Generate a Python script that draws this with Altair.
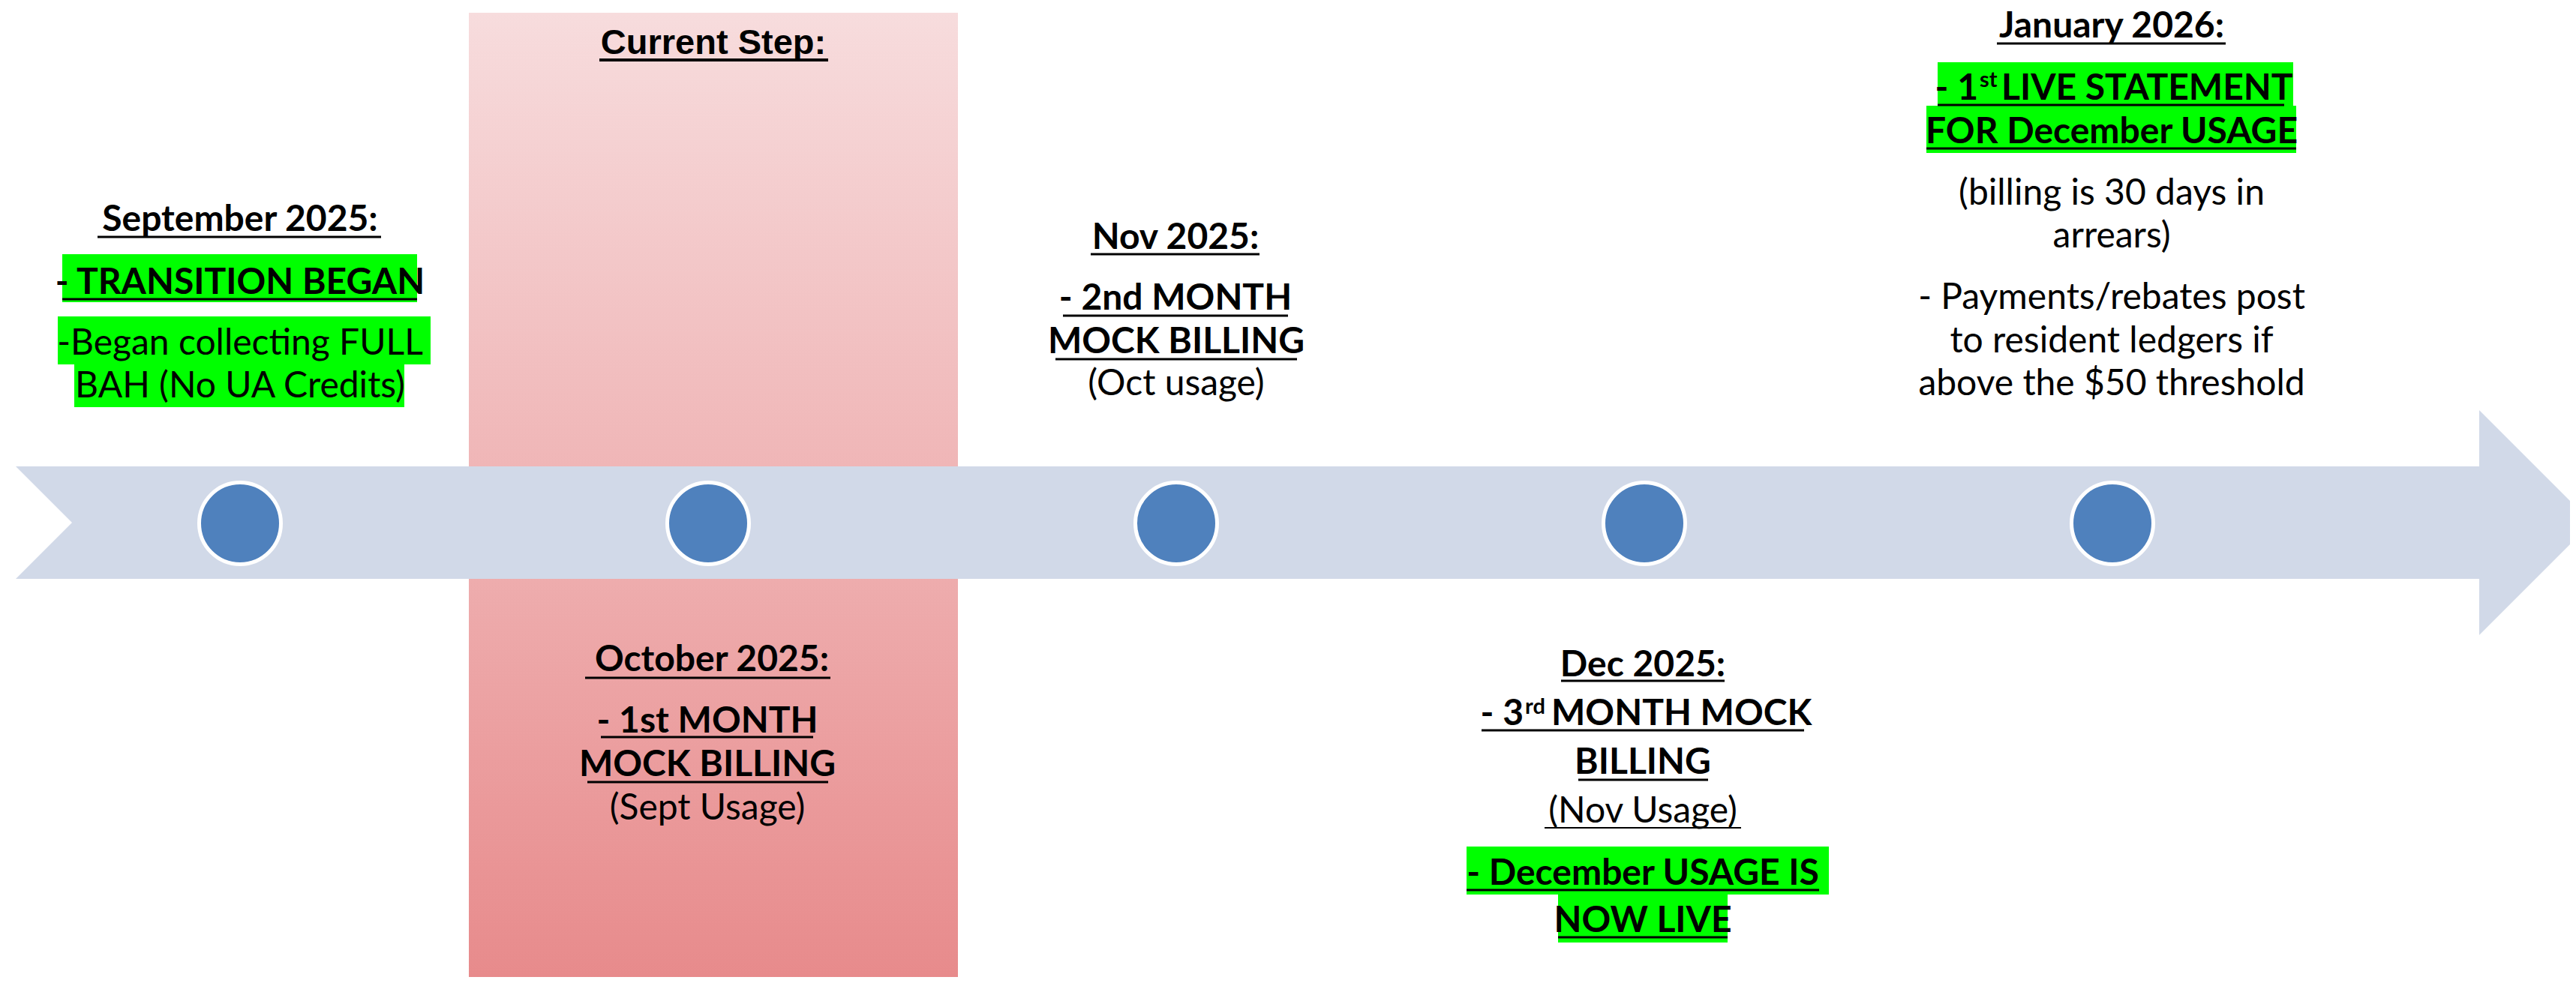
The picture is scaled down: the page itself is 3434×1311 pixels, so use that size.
import altair as alt
import pandas as pd

# ---------------- content ----------------
milestone_labels = ["September 2025", "October 2025", "Nov 2025", "Dec 2025", "January 2026"]
milestone_index = [0, 1, 2, 3, 4]
current_step_index = 1
current_step_label = "Current Step:"

sept_lines = ["September 2025:", "- TRANSITION BEGAN", "-Began collecting FULL", "BAH (No UA Credits)"]
oct_lines = ["October 2025:", "- 1st MONTH", "MOCK BILLING", "(Sept Usage)"]
nov_lines = ["Nov 2025:", "- 2nd MONTH", "MOCK BILLING", "(Oct usage)"]
dec_lines = ["Dec 2025:", ["- 3", "rd", "MONTH MOCK"], "BILLING", "(Nov Usage)",
             "- December USAGE IS", "NOW LIVE"]
jan_lines = ["January 2026:", ["- 1", "st", "LIVE STATEMENT"], "FOR December USAGE",
             "(billing is 30 days in", "arrears)", "- Payments/rebates post",
             "to resident ledgers if", "above the $50 threshold"]

# ---------------- layout (page geometry) ----------------
STEP = 624.0      # pixels between milestones
ORIGIN = 320.0    # pixel of first milestone


def u(px):
    return (px - ORIGIN) / STEP


XS = alt.Scale(domain=[u(8), u(3426)], nice=False, zero=False)
YS = alt.Scale(domain=[8, 1303], reverse=True, nice=False, zero=False)

FONT = "Lato"
B_SIZE = 48
R_SIZE = 48
SUP_SIZE = 29

# (style, baseline, center px, underline (x0,x1,y,w) | None, highlight (x0,x1,y0,y1) | None)
sept_layout = [
    ("bold", 308, 320, (130, 508, 316, 3), None),
    ("bold", 392, 320, (83, 556, 399, 3), (83, 556, 339, 403)),
    ("reg", 473, 320, None, (77, 574, 422, 486)),
    ("reg", 530, 320, None, (99, 539, 486, 543)),
]
oct_layout = [
    ("bold", 895, 949, (780, 1107, 904, 3), None),
    ("bold", 977, 943, (801, 1084, 983, 3), None),
    ("bold", 1035, 943, (783, 1104, 1043, 3), None),
    ("reg", 1093, 943, None, None),
]
nov_layout = [
    ("bold", 332, 1567, (1454, 1679, 339, 3), None),
    ("bold", 413, 1567, (1417, 1717, 421, 3), None),
    ("bold", 471, 1568, (1407, 1729, 479, 3), None),
    ("reg", 527, 1568, None, None),
]
dec_layout = [
    ("bold", 902, 2190, (2081, 2299, 908, 3), None),
    ("sup", 967, (2031, 2033, 2068, 15), (1975, 2405, 974, 3), None),
    ("bold", 1032, 2190, (2104, 2277, 1040, 3), None),
    ("reg", 1097, 2190, (2059, 2321, 1104, 2), None),
    ("bold", 1180, 2190, (1955, 2425, 1187, 3), (1955, 2438, 1129, 1193)),
    ("bold", 1243, 2190, (2077, 2303, 1250, 3), (2077, 2303, 1193, 1257)),
]
jan_layout = [
    ("bold", 50, 2815, (2662, 2967, 58, 3), None),
    ("sup", 133, (2637, 2639, 2668, 17), (2583, 3045, 140, 3), (2583, 3057, 83, 141)),
    ("bold", 191, 2815, (2568, 3061, 198, 3), (2568, 3061, 141, 204)),
    ("reg", 273, 2815, None, None),
    ("reg", 330, 2815, None, None),
    ("reg", 412, 2815, None, None),
    ("reg", 470, 2815, None, None),
    ("reg", 527, 2815, None, None),
]

blocks = [(sept_lines, sept_layout), (oct_lines, oct_layout), (nov_lines, nov_layout),
          (dec_lines, dec_layout), (jan_lines, jan_layout)]

bold_rows, reg_rows, right_rows, left_rows, sup_rows = [], [], [], [], []
ul_rows, hl_rows = [], []
for lines, layout in blocks:
    for text, (style, base, cx, ul, hl) in zip(lines, layout):
        if style == "sup":
            main1, sup, main2 = text
            xr, xs, xl, rise = cx
            right_rows.append({"x": u(xr), "y": base, "text": main1})
            sup_rows.append({"x": u(xs), "y": base - rise, "text": sup})
            left_rows.append({"x": u(xl), "y": base, "text": main2})
        elif style == "bold":
            bold_rows.append({"x": u(cx), "y": base, "text": text})
        else:
            reg_rows.append({"x": u(cx), "y": base, "text": text})
        if ul is not None:
            ul_rows.append({"x": u(ul[0]), "x2": u(ul[1]), "y": ul[2], "w": ul[3]})
        if hl is not None:
            hl_rows.append({"x": u(hl[0]), "x2": u(hl[1]), "y": hl[2], "y2": hl[3]})

X = lambda f="x": alt.X(f"{f}:Q", scale=XS, axis=None)
Y = lambda f="y": alt.Y(f"{f}:Q", scale=YS, axis=None)

# current-step band (gradient)
band_df = pd.DataFrame({"x": [u(625)], "x2": [u(1277)], "y": [17], "y2": [1330]})
band = alt.Chart(band_df).mark_rect(
    clip=True,
    color=alt.LinearGradient(
        gradient="linear", x1=0, y1=0, x2=0, y2=1,
        stops=[alt.GradientStop(color="#F7DCDD", offset=0),
               alt.GradientStop(color="#E7898A", offset=1)]),
).encode(x=X(), x2="x2:Q", y=Y(), y2="y2:Q")

# arrow
ARROW = "#D1D9E8"
body_df = pd.DataFrame({"x": [u(21)], "x2": [u(3307)], "y": [622], "y2": [772]})
body = alt.Chart(body_df).mark_rect(color=ARROW).encode(x=X(), x2="x2:Q", y=Y(), y2="y2:Q")

notch_df = pd.DataFrame({"x": [u(20), u(96)], "y": [621, 697], "y2": [773, 697]})
notch = alt.Chart(notch_df).mark_area(color="white").encode(x=X(), y=Y(), y2="y2:Q")

head_df = pd.DataFrame({"x": [u(3305), u(3455)], "y": [547, 697], "y2": [847, 697]})
head = alt.Chart(head_df).mark_area(color=ARROW, clip=True).encode(x=X(), y=Y(), y2="y2:Q")

# milestones
circ_df = pd.DataFrame({"x": milestone_index, "y": [698] * 5, "label": milestone_labels})
circles = alt.Chart(circ_df).mark_circle(
    size=11882, fill="#4F81BD", stroke="white", strokeWidth=5, opacity=1
).encode(x=X(), y=Y())

# highlights
hl = alt.Chart(pd.DataFrame(hl_rows)).mark_rect(color="#00FF00").encode(
    x=X(), x2="x2:Q", y=Y(), y2="y2:Q")


def text_layer(rows, size, weight, align="center", font=FONT):
    return alt.Chart(pd.DataFrame(rows)).mark_text(
        font=font, fontSize=size, fontWeight=weight, align=align,
        baseline="alphabetic", color="black"
    ).encode(x=X(), y=Y(), text="text:N")


t_bold = text_layer(bold_rows, B_SIZE, "bold")
t_reg = text_layer(reg_rows, R_SIZE, "normal")
t_right = text_layer(right_rows, B_SIZE, "bold", "right")
t_left = text_layer(left_rows, B_SIZE, "bold", "left")
t_sup = text_layer(sup_rows, SUP_SIZE, "bold", "left")

cs_rows = [{"x": u(951), "y": 72, "text": current_step_label}]
t_cs = text_layer(cs_rows, 47, "bold", "center", font="Liberation Sans")
ul_rows.append({"x": u(799), "x2": u(1104), "y": 80, "w": 4})

underlines = alt.Chart(pd.DataFrame(ul_rows)).mark_rule(color="black").encode(
    x=X(), x2="x2:Q", y=Y(), size=alt.Size("w:Q", scale=None, legend=None))

chart = alt.layer(
    band, body, notch, head, circles, hl,
    t_bold, t_reg, t_right, t_left, t_sup, t_cs, underlines
).properties(
    width=3418, height=1295,
    autosize=alt.AutoSizeParams(type="fit", contains="padding"),
    padding=0, background="white"
).configure_view(stroke=None)

chart.save("out.html", embed_options={"renderer": "svg", "actions": False})
